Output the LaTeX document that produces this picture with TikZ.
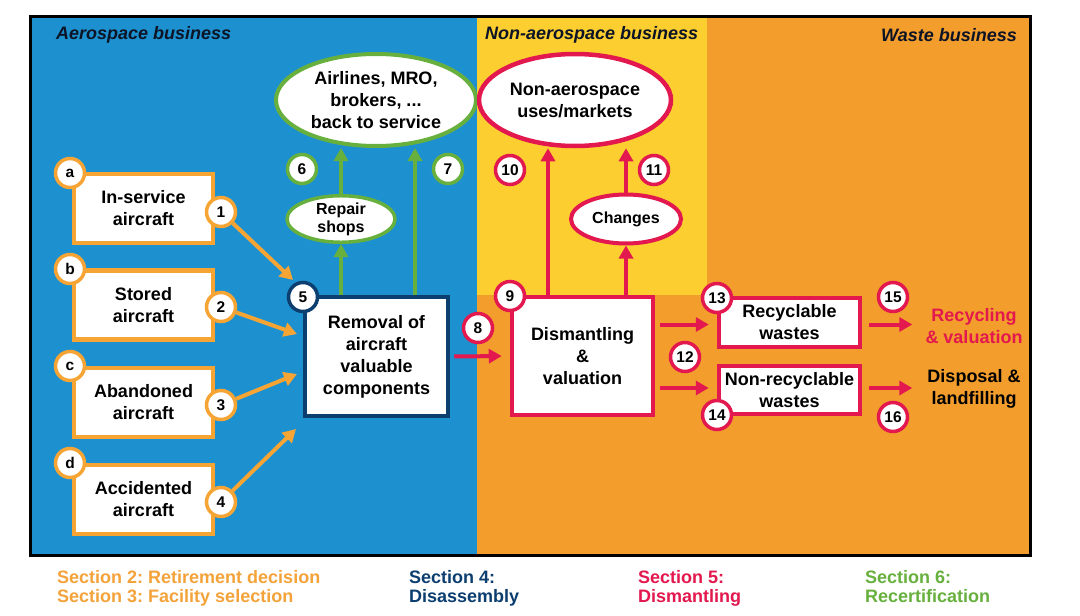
\documentclass[tikz,border=0pt]{standalone}
\usepackage{fontspec}
\setmainfont{Liberation Sans}
\usetikzlibrary{shapes.geometric,arrows.meta,calc}
\definecolor{blueBG}{RGB}{29,145,208}
\definecolor{yellowBG}{RGB}{253,206,47}
\definecolor{orangeBG}{RGB}{242,157,44}
\definecolor{orangeL}{RGB}{246,164,52}
\definecolor{navyC}{RGB}{12,62,112}
\definecolor{redC}{RGB}{226,24,78}
\definecolor{greenC}{RGB}{103,176,62}
\definecolor{legOr}{RGB}{244,163,58}
\definecolor{hdrC}{RGB}{12,20,38}
\frenchspacing
\newcommand\ftA{\bfseries\fontsize{18}{22}\selectfont}
\newcommand\ftB{\bfseries\fontsize{16}{18}\selectfont}
\newcommand\ftC{\bfseries\fontsize{15.5}{15.5}\selectfont}
\newcommand\ftH{\bfseries\itshape\fontsize{18}{22}\selectfont}
\newcommand\ftL{\bfseries\fontsize{18}{19}\selectfont\frenchspacing}
\begin{document}
\begin{tikzpicture}[x=1pt,y=-1pt,
  hdr/.style={font=\ftH, text=hdrC, inner sep=0pt},
  boxbase/.style={fill=white, align=center, font=\ftA, inner sep=2pt},
  obox/.style={boxbase, draw=orangeL, line width=4.5pt, minimum width=139pt, minimum height=69pt},
  nbox/.style={boxbase, draw=navyC, line width=4.5pt, minimum width=143pt, minimum height=119pt},
  rbox/.style={boxbase, draw=redC, line width=4.5pt},
  ell/.style={ellipse, fill=white, align=center, inner sep=0pt},
  circ/.style={circle, fill=white, line width=3.5pt, minimum size=29pt, inner sep=0pt, font=\ftC},
  ocirc/.style={circ, draw=orangeL},
  ncirc/.style={circ, draw=navyC},
  gcirc/.style={circ, draw=greenC},
  rcirc/.style={circ, draw=redC},
  arr/.style={line width=4pt, -{Triangle[length=13pt,width=14pt]}},
  legend/.style={font=\ftL, align=left, inner sep=0pt, anchor=base west}
]
\useasboundingbox (0,0) rectangle (1080,616);
\fill[white] (0,0) rectangle (1080,616);
% regions
\fill[blueBG] (30,16) rectangle (477,555);
\fill[yellowBG] (477,16) rectangle (707,295);
\fill[orangeBG] (707,16) rectangle (1030,295);
\fill[orangeBG] (477,295) rectangle (1030,555);
\draw[line width=3pt, black] (30,16) rectangle (1030,555);
% headers
\node[hdr, anchor=west] (h1) at (56,35) {Aerospace business};
\node[hdr, anchor=west] (h2) at (485,35) {Non-aerospace business};
\node[hdr, anchor=east] (h3) at (1017,35) {Waste business};
% left boxes
\node[obox] (ba) at (143.5,208.5) {In-service\\aircraft};
\node[obox] (bb) at (143.5,305) {Stored\\aircraft};
\node[obox] (bc) at (143.5,402.5) {Abandoned\\aircraft};
\node[obox] (bd) at (143.5,499.5) {Accidented\\aircraft};
\node[ocirc] (ca) at (70,173) {a};
\node[ocirc] (cb) at (70,269) {b};
\node[ocirc] (cc) at (70,366) {c};
\node[ocirc] (cd) at (70,463) {d};
\node[ocirc] (c1) at (221,212) {1};
\node[ocirc] (c2) at (221,307) {2};
\node[ocirc] (c3) at (221,405) {3};
\node[ocirc] (c4) at (221,502) {4};
% removal box
\node[nbox] (b5) at (376.5,356.5) {Removal of\\aircraft\\valuable\\components};
\node[ncirc] (c5) at (303,297) {5};
\coordinate (t1) at (293,280);
\coordinate (t2) at (297,334);
\coordinate (t3) at (297,374);
\coordinate (t4) at (296,429);
\draw[arr, draw=orangeL] (c1) -- (t1);
\draw[arr, draw=orangeL] (c2) -- (t2);
\draw[arr, draw=orangeL] (c3) -- (t3);
\draw[arr, draw=orangeL] (c4) -- (t4);
% ellipses (aerospace)
\node[ell, draw=greenC, line width=4pt, minimum width=200pt, minimum height=92pt, font=\ftA] (air) at (376,100) {Airlines, MRO,\\brokers, ...\\back to service};
\node[ell, draw=greenC, line width=3.5pt, minimum width=108pt, minimum height=46pt, font=\ftB] (rep) at (341,219) {Repair\\shops};
\node[gcirc] (c6) at (302,169) {6};
\node[gcirc] (c7) at (448,169) {7};
\draw[arr, draw=greenC] (rep.south |- b5.north) -- (rep.south);
\draw[arr, draw=greenC] (rep.north) -- (rep.north |- air.south);
\draw[arr, draw=greenC] ([xshift=38.5pt]b5.north) -- ([xshift=38.5pt]b5.north |- air.south);
% dismantling
\node[rbox, minimum width=141pt, minimum height=118pt] (dis) at (582.5,356) {Dismantling\\\&\\valuation};
\node[rcirc] (c9) at (510,296) {9};
\node[rcirc] (c8) at (478,328) {8};
\draw[arr, draw=redC, shorten <=4pt, shorten >=8pt] (b5.east) -- (dis.west);
% non-aerospace
\node[ell, draw=redC, line width=4.5pt, minimum width=192pt, minimum height=92pt, font=\ftA] (non) at (575,100) {Non-aerospace\\uses/markets};
\node[ell, draw=redC, line width=4pt, minimum width=110pt, minimum height=49pt, font=\ftB] (chg) at (626,219) {Changes};
\node[rcirc] (c10) at (510,170) {10};
\node[rcirc] (c11) at (654,170) {11};
\draw[arr, draw=redC] ([xshift=-34.5pt]dis.north) -- ([xshift=-34.5pt]dis.north |- non.south);
\draw[arr, draw=redC] (chg.south |- dis.north) -- (chg.south);
\draw[arr, draw=redC] (chg.north) -- (chg.north |- non.south);
% wastes
\node[rbox, minimum width=141pt, minimum height=49pt, inner sep=0pt] (rec) at (789.5,322.5) {Recyclable\\wastes};
\node[rbox, minimum width=141pt, minimum height=48pt, inner sep=0pt] (nrec) at (789.5,390) {Non-recyclable\\wastes};
\node[rcirc] (c12) at (685,357) {12};
\node[rcirc] (c13) at (717,298) {13};
\node[rcirc] (c14) at (717,415) {14};
\draw[arr, draw=redC, shorten <=5pt, shorten >=8pt] ([yshift=-2pt]dis.east |- rec.west) -- ([yshift=-2pt]rec.west);
\draw[arr, draw=redC, shorten <=5pt, shorten >=8pt] ([yshift=2pt]dis.east |- nrec.west) -- ([yshift=2pt]nrec.west);
% outcomes
\node[font=\ftA, text=redC, align=center, inner sep=0pt] (rtx) at (974,326) {Recycling\\\& valuation};
\node[font=\ftA, text=black, align=center, inner sep=0pt] (dtx) at (974,389) {Disposal \&\\landfilling};
\node[rcirc] (c15) at (893,297) {15};
\node[rcirc] (c16) at (893,417) {16};
\draw[arr, draw=redC, shorten <=7pt, shorten >=13pt] ([yshift=-2pt]rec.east) -- ([yshift=-2pt]rec.east -| rtx.west);
\draw[arr, draw=redC, shorten <=7pt, shorten >=13pt] ([yshift=2pt]nrec.east) -- ([yshift=2pt]nrec.east -| rtx.west);
% legend
\node[legend, text=legOr] (l1) at (57,602) {Section 2: Retirement decision\\Section 3: Facility selection};
\node[legend, text=navyC] (l2) at (409,602) {Section 4:\\Disassembly};
\node[legend, text=redC] (l3) at (638,602) {Section 5:\\Dismantling};
\node[legend, text=greenC] (l4) at (865,602) {Section 6:\\Recertification};
\end{tikzpicture}
\end{document}
